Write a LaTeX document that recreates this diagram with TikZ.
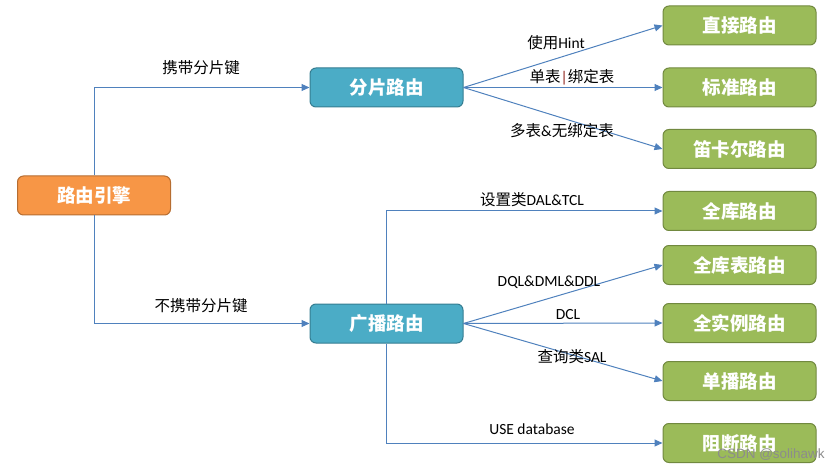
\documentclass[tikz,border=0pt]{standalone}
\usepackage{fontspec}
\setmainfont{Carlito}
\newfontfamily\cjk{Noto Sans CJK SC}
\newfontfamily\wmfont{Liberation Sans}
\usetikzlibrary{arrows.meta}
\definecolor{linec}{HTML}{4F81BD}
\definecolor{orf}{HTML}{F79646}
\definecolor{ord}{HTML}{B66D31}
\definecolor{tlf}{HTML}{4BACC6}
\definecolor{tld}{HTML}{357D91}
\definecolor{grf}{HTML}{9BBB59}
\definecolor{grd}{HTML}{71893F}
\definecolor{curs}{HTML}{8B1A10}
\tikzset{
  box/.style={rounded corners=6pt, line width=1pt, minimum width=153pt, minimum height=39pt, inner sep=0pt, text=white, font=\cjk\bfseries\fontsize{18.5}{22}\selectfont},
  rootbox/.style={box, fill=orf, draw=ord},
  midbox/.style={box, fill=tlf, draw=tld},
  leafbox/.style={box, fill=grf, draw=grd},
  conn/.style={draw=linec, line width=1pt, -{Triangle[length=8pt,width=7pt]}},
  lbl/.style={inner sep=0pt, font=\fontsize{15.5}{18}\selectfont, text=black},
}
\begin{document}
\begin{tikzpicture}[x=1pt,y=-1pt]
\useasboundingbox (0,0) rectangle (837,470);
% boxes
\node[rootbox] (root) at (94,195.5) {路由引擎};
\node[midbox] (shard) at (386.5,87.5) {分片路由};
\node[midbox] (bcast) at (386.5,323.5) {广播路由};
\node[leafbox] (direct) at (739.5,25.5) {直接路由};
\node[leafbox] (std) at (739.5,87.5) {标准路由};
\node[leafbox] (cart) at (739.5,149) {笛卡尔路由};
\node[leafbox] (alldb) at (739.5,211) {全库路由};
\node[leafbox] (alltb) at (739.5,265) {全库表路由};
\node[leafbox] (allinst) at (739.5,323) {全实例路由};
\node[leafbox] (unicast) at (739.5,381) {单播路由};
\node[leafbox] (block) at (739.5,443) {阻断路由};
% connectors
\draw[conn] (root.north) |- (shard.west);
\draw[conn] (root.south) |- (bcast.west);
\draw[conn] (shard.east) -- (direct.west);
\draw[conn] (shard.east) -- (std.west);
\draw[conn] (shard.east) -- (cart.west);
\draw[conn] (bcast.north) |- (alldb.west);
\draw[conn] (bcast.east) -- (alltb.west);
\draw[conn] (bcast.east) -- (allinst.west);
\draw[conn] (bcast.east) -- (unicast.west);
\draw[conn] (bcast.south) |- (block.west);
% labels
\node[lbl] (l1) at (201,68) {\cjk 携带分片键};
\node[lbl] (l2) at (201,306) {\cjk 不携带分片键};
\node[lbl] (l3) at (556,43) {{\cjk 使用}Hint};
\node[lbl] (l4) at (572,77) {{\cjk 单表}{\color{curs}|}{\cjk 绑定表}};
\node[lbl] (l5) at (562,131) {{\cjk 多表}\&{\cjk 无绑定表}};
\node[lbl] (l6) at (532,200) {{\cjk 设置类}DAL\&TCL};
\node[lbl] (l7) at (549,282) {DQL\&DML\&DDL};
\node[lbl] (l8) at (568,315) {DCL};
\node[lbl] (l9) at (572,357) {{\cjk 查询类}SAL};
\node[lbl] (l10) at (532,429) {USE database};
\node[inner sep=0pt, text=black!45, font=\wmfont\fontsize{13.5}{16}\selectfont] (wm) at (771,455) {CSDN @solihawk};
\end{tikzpicture}
\end{document}
